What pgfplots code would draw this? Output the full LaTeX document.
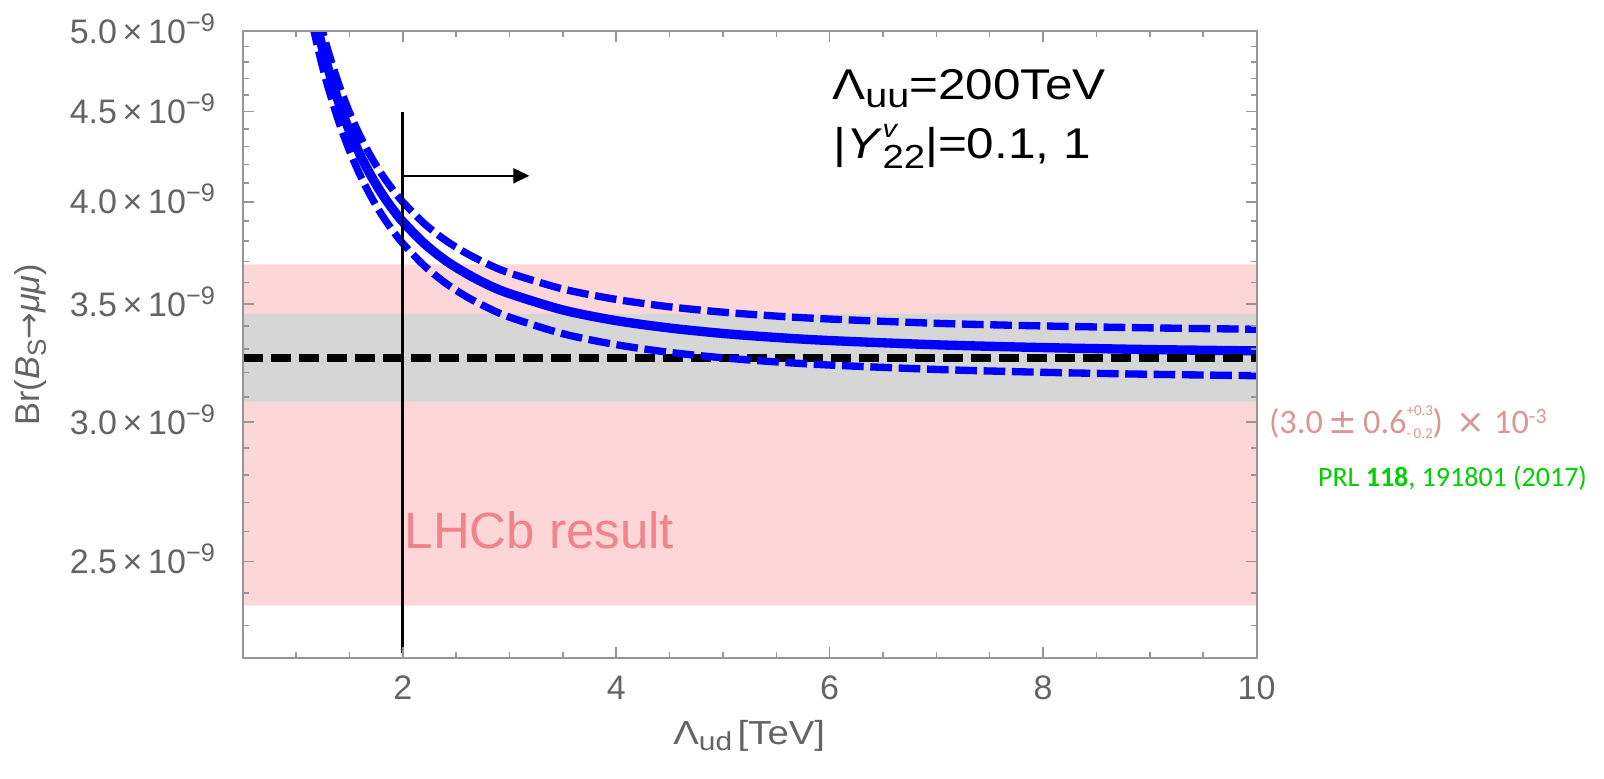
\documentclass[border=0pt]{standalone}
\usepackage{fontspec}
\setmainfont{Liberation Sans}
\newfontfamily\stretchfont{Liberation Sans}[FakeStretch=1.15]
\newfontfamily\calfont{Carlito}
\newfontfamily\djfont{DejaVu Sans}
\usepackage{pgfplots}
\pgfplotsset{compat=1.18}
\usetikzlibrary{arrows.meta}
\definecolor{pinkband}{RGB}{253,214,215}
\definecolor{grayband}{RGB}{214,214,214}
\definecolor{axisgray}{RGB}{150,150,150}
\definecolor{labelgray}{RGB}{100,100,100}
\definecolor{lhcbpink}{RGB}{242,130,140}
\definecolor{rosy}{RGB}{217,152,147}
\definecolor{prlgreen}{RGB}{0,208,0}
\newcommand{\sci}[1]{#1\,×\,10\raisebox{3.6pt}{\fontsize{7.6}{9}\selectfont −9}}
\begin{document}
\begin{tikzpicture}
\path[use as bounding box] (-72.81pt,-35.91pt) rectangle (408.39pt,197.49pt);
\begin{axis}[
  at={(0pt,0pt)}, anchor=south west,
  scale only axis, width=304.14pt, height=188.19pt,
  xmin=0.5, xmax=10, ymin=2.203, ymax=5,
  ymode=log,
  axis on top,
  axis line style={draw=axisgray, line width=0.6pt},
  tick align=inside, xtick pos=both, ytick pos=both,
  xticklabel pos=lower, yticklabel pos=left,
  xtick={2,4,6,8,10},
  xticklabels={2,4,6,8,10},
  minor xtick={1,1.5,2.5,3,3.5,4.5,5,5.5,6.5,7,7.5,8.5,9,9.5},
  ytick={2.5,3,3.5,4,4.5,5},
  yticklabels={\sci{2.5},\sci{3.0},\sci{3.5},\sci{4.0},\sci{4.5},\sci{5.0}},
  minor ytick={2.3,2.4,2.6,2.7,2.8,2.9,3.1,3.2,3.3,3.4,3.6,3.7,3.8,3.9,4.1,4.2,4.3,4.4,4.6,4.7,4.8,4.9},
  major tick length=3.3pt, minor tick length=1.8pt,
  every tick/.style={draw=axisgray, line width=0.45pt},
  tick label style={font=\fontsize{10.2}{12}\selectfont, text=labelgray},
  xticklabel style={anchor=base, yshift=-12.5pt},
  yticklabel style={anchor=base east, xshift=-4.8pt, yshift=-3.65pt},
]
% LHCb band
\addplot[draw=none, fill=pinkband] coordinates {(0.5,2.360) (10,2.360) (10,3.686) (0.5,3.686) (0.5,2.360)};
% SM band
\addplot[draw=none, fill=grayband] coordinates {(0.5,3.081) (10,3.081) (10,3.455) (0.5,3.455) (0.5,3.081)};
% central curve
\addplot[blue, line width=2.8pt, smooth] coordinates {
(1.15,5.176) (1.2,5.021) (1.25,4.883) (1.3,4.761) (1.4,4.555) (1.5,4.389) (1.6,4.253) (1.7,4.141)
(1.8,4.046) (1.9,3.966) (2.0,3.898) (2.2,3.789) (2.4,3.705) (2.6,3.641) (2.8,3.589) (3.0,3.548)
(3.5,3.473) (4,3.425) (4.5,3.392) (5,3.368) (5.5,3.3505) (6,3.337) (7,3.3185) (8,3.3065) (9,3.298) (10,3.292)};
% SM central value
\addplot[black, line width=2.3pt, dash pattern=on 6.2pt off 2.2pt] coordinates {(0.5,3.263) (10,3.263)};
% upper dashed
\addplot[blue, line width=2.2pt, dash pattern=on 6.5pt off 2pt, smooth] coordinates {
(1.15,5.292) (1.2,5.135) (1.25,4.996) (1.3,4.872) (1.4,4.664) (1.5,4.496) (1.6,4.359) (1.7,4.245)
(1.8,4.149) (1.9,4.0685) (2.0,3.9995) (2.2,3.889) (2.4,3.804) (2.6,3.739) (2.8,3.687) (3.0,3.645)
(3.5,3.5695) (4,3.521) (4.5,3.487) (5,3.463) (5.5,3.445) (6,3.432) (7,3.413) (8,3.401) (9,3.3925) (10,3.3865)};
% lower dashed
\addplot[blue, line width=2.2pt, dash pattern=on 6.5pt off 2pt, smooth] coordinates {
(1.1,5.235) (1.15,5.058) (1.2,4.904) (1.25,4.767) (1.3,4.646) (1.4,4.442) (1.5,4.277) (1.6,4.142) (1.7,4.030)
(1.8,3.936) (1.9,3.857) (2.0,3.789) (2.2,3.680) (2.4,3.597) (2.6,3.533) (2.8,3.482) (3.0,3.4407)
(3.5,3.3667) (4,3.3188) (4.5,3.2859) (5,3.2623) (5.5,3.2449) (6,3.2317) (7,3.2132) (8,3.2012) (9,3.193) (10,3.1871)};
% bound line and arrow
\draw[black, line width=0.8pt] (axis cs:2,4.495) -- (axis cs:2,2.218);
\draw[black, line width=0.7pt, -{Triangle[length=4.8pt,width=4.5pt]}] (axis cs:2,4.138) -- (axis cs:3.186,4.138);
\end{axis}
% texts
\node[anchor=base west, font=\fontsize{15.3}{18}\selectfont, text=lhcbpink, inner sep=0pt] at (48.4pt,33.0pt) {LHCb result};
\node[anchor=base west, font=\fontsize{12.9}{15}\stretchfont, inner sep=0pt] at (176.7pt,167.5pt)
  {Λ\raisebox{-2.4pt}{\fontsize{10.3}{12}\selectfont uu}=200TeV};
\node[anchor=base west, font=\fontsize{12.9}{15}\stretchfont, inner sep=0pt] at (177.1pt,150.0pt)
  {|\textit{Y}\makebox[0pt][l]{\raisebox{6.2pt}{\fontsize{7.5}{9}\selectfont\itshape v}}\raisebox{-3pt}{\fontsize{10}{12}\selectfont 22}|=0.1, 1};
\node[rotate=90, font=\fontsize{10.3}{12}\selectfont, text=labelgray] at (-63.5pt,94.1pt)
  {Br(\textit{B}\raisebox{-1.8pt}{\fontsize{7.8}{9}\selectfont S}{\djfont\fontsize{9.5}{11}\selectfont →}\textit{μμ})};
\node[anchor=base, font=\fontsize{10}{12}\stretchfont, text=labelgray, inner sep=0pt] at (151.95pt,-26.0pt)
  {Λ\raisebox{-1.8pt}{\fontsize{7.8}{9}\selectfont ud}\,[TeV]};
\node[anchor=base west, font=\fontsize{10.3}{12}\calfont, text=rosy, inner sep=0pt] at (307.7pt,67.5pt)
  {(3.0\,{\djfont ±}\,0.6\makebox[0pt][l]{\raisebox{5.2pt}{\fontsize{4.5}{5}\selectfont +0.3}}\raisebox{-1.5pt}{\fontsize{4.5}{5}\selectfont -\,0.2})\hspace{0.4em}{\djfont ×}\hspace{0.25em}10\raisebox{3pt}{\fontsize{6.5}{7}\selectfont -3}};
\node[anchor=base west, font=\fontsize{8.4}{10}\calfont, text=prlgreen, inner sep=0pt] at (322.4pt,51.5pt) {PRL \textbf{118}, 191801 (2017)};
\end{tikzpicture}
\end{document}
